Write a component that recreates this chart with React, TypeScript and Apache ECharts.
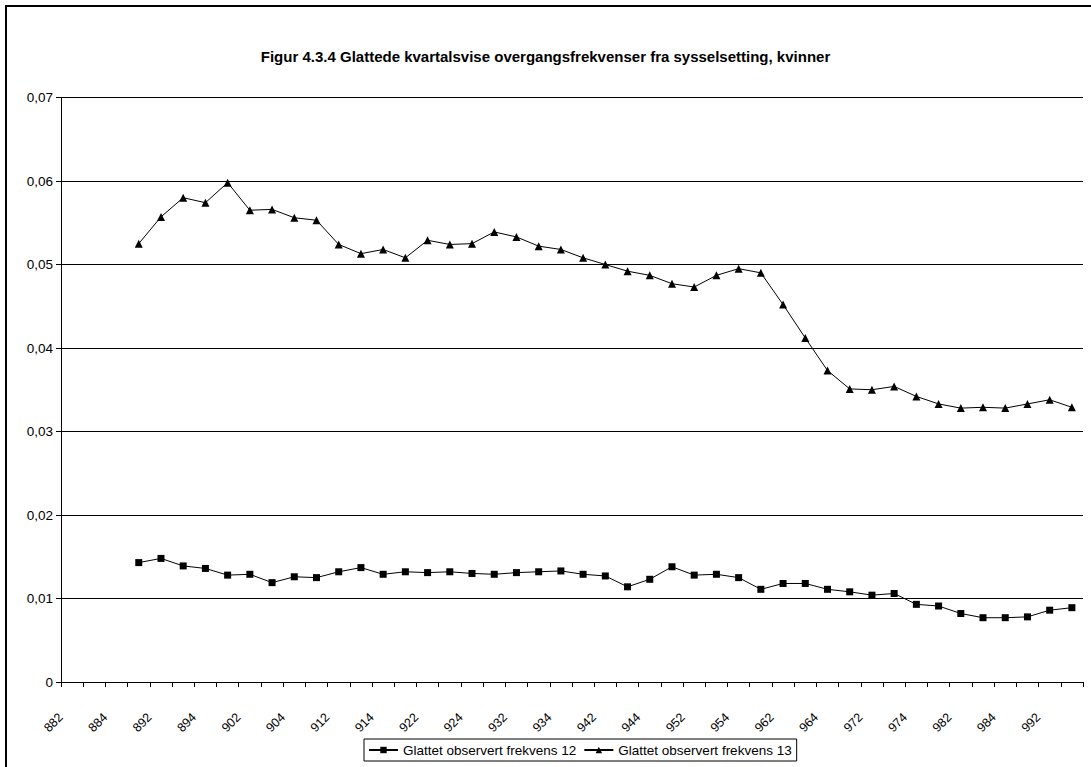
import React, { useEffect, useRef } from "react";
import * as echarts from "echarts";

const titleText = "Figur 4.3.4 Glattede kvartalsvise overgangsfrekvenser fra sysselsetting, kvinner";

const categories = [
  "882", "883", "884",
  "891", "892", "893", "894",
  "901", "902", "903", "904",
  "911", "912", "913", "914",
  "921", "922", "923", "924",
  "931", "932", "933", "934",
  "941", "942", "943", "944",
  "951", "952", "953", "954",
  "961", "962", "963", "964",
  "971", "972", "973", "974",
  "981", "982", "983", "984",
  "991", "992", "993",
];

const seriesNames = ["Glattet observert frekvens 12", "Glattet observert frekvens 13"];

const freq12 = [
  null, null, null,
  0.0143, 0.0148, 0.0139, 0.0136,
  0.0128, 0.0129, 0.0119, 0.0126,
  0.0125, 0.0132, 0.0137, 0.0129,
  0.0132, 0.0131, 0.0132, 0.0130,
  0.0129, 0.0131, 0.0132, 0.0133,
  0.0129, 0.0127, 0.0114, 0.0123,
  0.0138, 0.0128, 0.0129, 0.0125,
  0.0111, 0.0118, 0.0118, 0.0111,
  0.0108, 0.0104, 0.0106, 0.0093,
  0.0091, 0.0082, 0.0077, 0.0077,
  0.0078, 0.0086, 0.0089,
];

const freq13 = [
  null, null, null,
  0.0525, 0.0557, 0.0580, 0.0574,
  0.0598, 0.0565, 0.0566, 0.0556,
  0.0553, 0.0524, 0.0513, 0.0518,
  0.0508, 0.0529, 0.0524, 0.0525,
  0.0539, 0.0533, 0.0522, 0.0518,
  0.0508, 0.0500, 0.0492, 0.0487,
  0.0477, 0.0473, 0.0487, 0.0495,
  0.0490, 0.0452, 0.0412, 0.0373,
  0.0351, 0.0350, 0.0354, 0.0342,
  0.0333, 0.0328, 0.0329, 0.0328,
  0.0333, 0.0338, 0.0329,
];

const yMin = 0;
const yMax = 0.07;
const yStep = 0.01;

const FONT = "'Liberation Sans', Arial, sans-serif";

export default function App() {
  const ref = useRef<HTMLDivElement>(null);

  useEffect(() => {
    if (!ref.current) return;
    const chart = echarts.init(ref.current, null, { renderer: "svg" });
    chart.setOption({
      animation: false,
      backgroundColor: "#ffffff",
      title: {
        text: titleText,
        left: "center",
        top: 44,
        textStyle: { fontFamily: FONT, fontSize: 15, fontWeight: "bold", color: "#000" },
      },
      graphic: [
        {
          type: "rect",
          shape: { x: 6, y: 6, width: 1120, height: 800 },
          style: { fill: "none", stroke: "#000", lineWidth: 2 },
          silent: true,
        },
      ],
      legend: {
        left: 364,
        top: 739,
        data: seriesNames,
        itemWidth: 29,
        itemHeight: 8,
        itemGap: 7,
        padding: [4, 5, 4, 4],
        borderColor: "#000",
        borderWidth: 1,
        borderRadius: 0,
        textStyle: { fontFamily: FONT, fontSize: 13.5, color: "#000" },
      },
      grid: { left: 61, right: 8, top: 97.5, bottom: 85, containLabel: false },
      xAxis: {
        type: "category",
        data: categories,
        boundaryGap: true,
        axisLine: { lineStyle: { color: "#000", width: 1 } },
        axisTick: { show: true, length: 5, interval: 0, lineStyle: { color: "#000" } },
        axisLabel: {
          interval: 1,
          rotate: 45,
          fontFamily: FONT,
          fontSize: 12.5,
          color: "#000",
          margin: 22,
          padding: [0, 16, 0, 0],
        },
        splitLine: { show: false },
      },
      yAxis: {
        type: "value",
        min: yMin,
        max: yMax,
        interval: yStep,
        axisLine: { show: true, lineStyle: { color: "#000", width: 1 } },
        axisTick: { show: true, length: 5, inside: false, lineStyle: { color: "#000" } },
        axisLabel: {
          fontFamily: FONT,
          fontSize: 13.5,
          color: "#000",
          margin: 8,
          formatter: (v: number) => (v === 0 ? "0" : v.toFixed(2).replace(".", ",")),
        },
        splitLine: { show: true, lineStyle: { color: "#000", width: 1 } },
      },
      series: [
        {
          name: seriesNames[0],
          type: "line",
          data: freq12,
          symbol: "rect",
          symbolSize: 7,
          showAllSymbol: true,
          lineStyle: { color: "#000", width: 1 },
          itemStyle: { color: "#000" },
          connectNulls: false,
        },
        {
          name: seriesNames[1],
          type: "line",
          data: freq13,
          symbol: "triangle",
          symbolSize: 8,
          showAllSymbol: true,
          lineStyle: { color: "#000", width: 1 },
          itemStyle: { color: "#000" },
          connectNulls: false,
        },
      ],
    });
    return () => chart.dispose();
  }, []);

  return (
    <div
      ref={ref}
      style={{ position: "absolute", left: 0, top: 0, width: 1091, height: 767 }}
    />
  );
}
